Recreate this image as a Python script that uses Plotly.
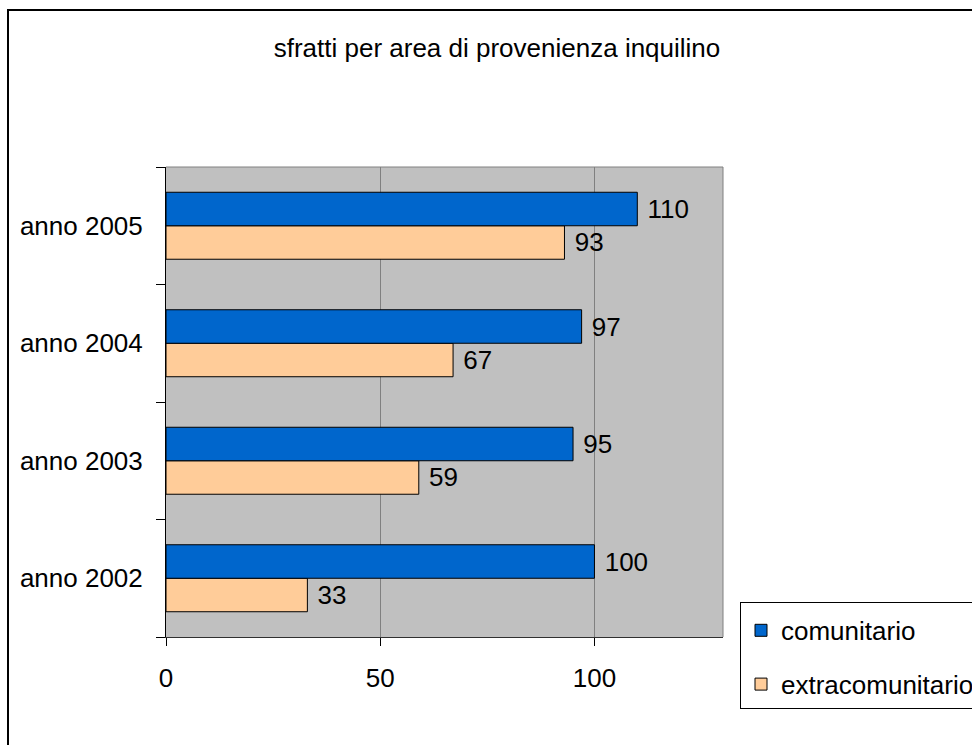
import plotly.graph_objects as go

categories = ["anno 2002", "anno 2003", "anno 2004", "anno 2005"]
comunitario = [100, 95, 97, 110]
extracomunitario = [33, 59, 67, 93]
x_ticks = [0, 50, 100]
title_text = "sfratti per area di provenienza inquilino"

FONT = "Liberation Sans, Arial, Helvetica, sans-serif"
FS = 26

W, H = 972, 745
ML, MR, MT, MB = 166, 249, 167, 108
PW, PH = W - ML - MR, H - MT - MB


def px(xp):
    return (xp - ML) / PW


def py(yp):
    return (H - MB - yp) / PH


fig = go.Figure()
fig.add_trace(go.Bar(
    y=categories, x=extracomunitario, orientation="h", name="extracomunitario",
    marker=dict(color="#FFCC99", line=dict(color="black", width=1)),
    text=extracomunitario, texttemplate=" %{x}", textposition="outside",
    constraintext="none", cliponaxis=False,
    textfont=dict(family=FONT, size=FS, color="black"),
    legendgroup="b", legendrank=2,
))
fig.add_trace(go.Bar(
    y=categories, x=comunitario, orientation="h", name="comunitario",
    marker=dict(color="#0066CC", line=dict(color="black", width=1)),
    text=comunitario, texttemplate=" %{x}", textposition="outside",
    constraintext="none", cliponaxis=False,
    textfont=dict(family=FONT, size=FS, color="black"),
    legendgroup="a", legendrank=1,
))

fig.update_layout(
    width=W, height=H,
    margin=dict(l=ML, r=MR, t=MT, b=MB, autoexpand=False),
    paper_bgcolor="white", plot_bgcolor="#C0C0C0",
    font=dict(family=FONT, size=FS, color="black"),
    barmode="group", bargap=0.43, bargroupgap=0,
    title=dict(text=title_text, x=497 / W, xanchor="center",
               y=1 - 48 / H, yanchor="middle", xref="container",
               font=dict(family=FONT, size=FS, color="black")),
    legend=dict(x=px(740), y=py(602), xanchor="left", yanchor="top",
                bgcolor="white", bordercolor="black", borderwidth=1,
                traceorder="grouped", tracegroupgap=17,
                title=dict(text=" ", font=dict(size=3)),
                font=dict(family=FONT, size=FS, color="black")),
    showlegend=True,
)

fig.update_xaxes(
    range=[0, 130], tickvals=x_ticks, ticktext=[str(v) for v in x_ticks],
    showgrid=True, gridcolor="#808080", gridwidth=1, zeroline=False,
    showline=True, linecolor="#303030", linewidth=1,
    ticks="outside", ticklen=8, tickcolor="black", tickwidth=1,
    ticklabelstandoff=10,
    tickfont=dict(family=FONT, size=FS, color="black"),
)
fig.update_yaxes(
    type="category", categoryorder="array", categoryarray=categories,
    showgrid=False, zeroline=False,
    showline=True, linecolor="black", linewidth=1,
    ticks="outside", ticklen=9, tickcolor="black", tickwidth=1,
    tickson="boundaries", ticklabelstandoff=17,
    tickfont=dict(family=FONT, size=FS, color="black"),
)

# gray border on top and right of plot area
fig.add_shape(type="line", xref="paper", yref="paper", x0=0, x1=1, y0=1, y1=1,
              line=dict(color="#808080", width=1), layer="above")
fig.add_shape(type="line", xref="paper", yref="paper", x0=1, x1=1, y0=0, y1=1,
              line=dict(color="#808080", width=1), layer="above")
# outer chart frame
fig.add_shape(type="rect", xref="paper", yref="paper",
              x0=px(8), x1=px(990), y0=py(770), y1=py(10),
              line=dict(color="black", width=2), fillcolor="rgba(0,0,0,0)", layer="below")

fig.write_html("out.html", config={"displayModeBar": False},
               post_script="document.body.style.margin='0';document.body.style.overflow='hidden';")
